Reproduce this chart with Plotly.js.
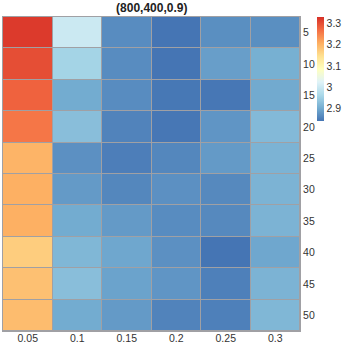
<!DOCTYPE html>
<html>
<head>
<meta charset="utf-8">
<script src="https://cdn.plot.ly/plotly-3.0.1.min.js"></script>
<style>
  html, body { margin: 0; padding: 0; background: #fff; }
  #myDiv { width: 345px; height: 345px; }
</style>
</head>
<body>
<div id="myDiv"></div>
<script>
var cols = ['0.05', '0.1', '0.15', '0.2', '0.25', '0.3'];
var rows = ['5', '10', '15', '20', '25', '30', '35', '40', '45', '50'];

// one array per row, left to right
var r5  = [3.32, 3.000, 2.865, 2.840, 2.868, 2.868];
var r10 = [3.30, 2.955, 2.865, 2.840, 2.885, 2.905];
var r15 = [3.28, 2.900, 2.865, 2.843, 2.842, 2.898];
var r20 = [3.26, 2.925, 2.855, 2.842, 2.875, 2.918];
var r25 = [3.20, 2.870, 2.850, 2.860, 2.880, 2.910];
var r30 = [3.205, 2.880, 2.860, 2.870, 2.862, 2.910];
var r35 = [3.205, 2.900, 2.880, 2.865, 2.862, 2.910];
var r40 = [3.17, 2.915, 2.895, 2.870, 2.840, 2.895];
var r45 = [3.185, 2.925, 2.890, 2.875, 2.852, 2.910];
var r50 = [3.19, 2.900, 2.880, 2.855, 2.852, 2.915];

var z = [r5, r10, r15, r20, r25, r30, r35, r40, r45, r50];

var rdylbu = [
  [0, '#4575b4'], [0.125, '#74add1'], [0.25, '#abd9e9'], [0.375, '#e0f3f8'],
  [0.5, '#ffffbf'], [0.625, '#fee090'], [0.75, '#fdae61'], [0.875, '#f46d43'], [1, '#d73027']
];

var trace = {
  type: 'heatmap',
  x: cols,
  y: rows,
  z: z,
  zmin: 2.84,
  zmax: 3.33,
  colorscale: rdylbu,
  xgap: 1,
  ygap: 1,
  colorbar: {
    x: 1.058, xanchor: 'left',
    y: 1, yanchor: 'top',
    len: 0.33, lenmode: 'fraction',
    thickness: 7,
    xpad: 0, ypad: 0,
    outlinewidth: 0,
    tickvals: [2.9, 3, 3.1, 3.2, 3.3],
    ticktext: ['2.9', '3', '3.1', '3.2', '3.3'],
    ticks: '',
    tickfont: {size: 10.5, color: '#333'}
  }
};

var layout = {
  width: 345,
  height: 345,
  margin: {l: 3, r: 45, t: 17, b: 14},
  font: {family: 'Liberation Sans, Arial, sans-serif', size: 10.5, color: '#333'},
  title: {
    text: '<b>(800,400,0.9)</b>',
    font: {size: 12, color: '#222'},
    x: 0.44, xanchor: 'center',
    y: 0.978, yanchor: 'middle'
  },
  plot_bgcolor: '#a0a0a4',
  paper_bgcolor: '#fff',
  xaxis: {
    type: 'category',
    showgrid: false, zeroline: false,
    ticks: '', ticklen: 0,
    ticklabelstandoff: -3,
    showline: true, linecolor: '#a0a0a4', linewidth: 1, mirror: true
  },
  yaxis: {
    type: 'category',
    side: 'right',
    autorange: 'reversed',
    showgrid: false, zeroline: false,
    ticks: '', ticklen: 0,
    showline: true, linecolor: '#a0a0a4', linewidth: 1, mirror: true
  }
};

Plotly.newPlot('myDiv', [trace], layout, {displayModeBar: false, staticPlot: true});
</script>
</body>
</html>
